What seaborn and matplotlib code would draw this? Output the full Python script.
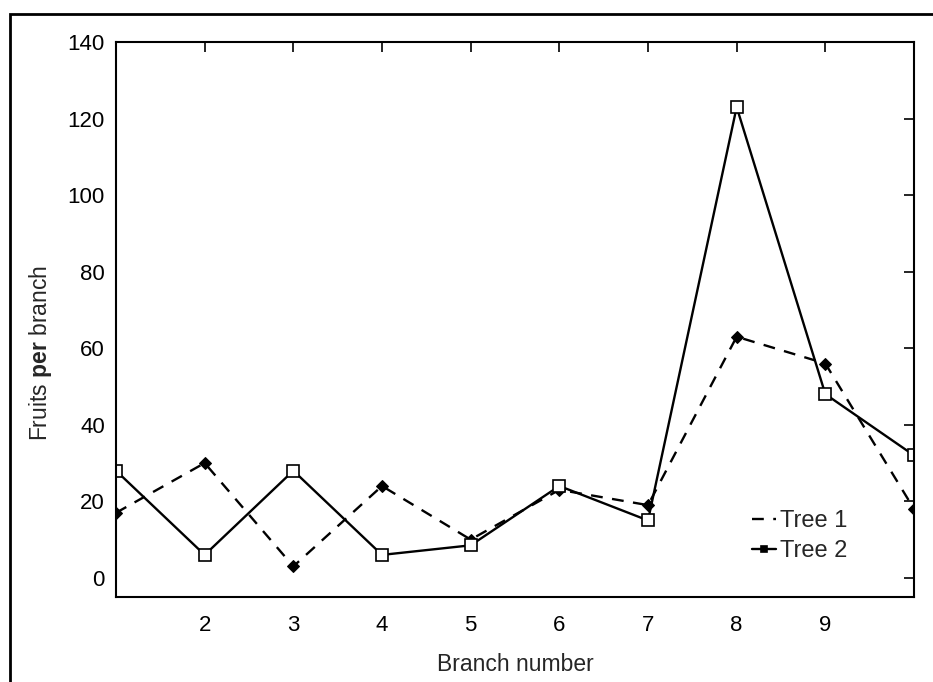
import matplotlib
matplotlib.use("Agg")
import matplotlib.pyplot as plt
import matplotlib.patches as mpatches
import seaborn as sns
import pandas as pd

branch = [1, 2, 3, 4, 5, 6, 7, 8, 9, 10]
tree1 = [17, 30, 3, 24, 10, 23, 19, 63, 56, 18]
tree2 = [28, 6, 28, 6, 8.5, 24, 15, 123, 48, 32]
xticks = [2, 3, 4, 5, 6, 7, 8, 9]
yticks = [0, 20, 40, 60, 80, 100, 120, 140]

sns.set_style("white")
plt.rcParams['font.family'] = ['Liberation Sans', 'DejaVu Sans']
plt.rcParams['mathtext.fontset'] = 'custom'
plt.rcParams['mathtext.rm'] = 'Liberation Sans'
plt.rcParams['mathtext.bf'] = 'Liberation Sans:bold'

fig = plt.figure(figsize=(9.33, 6.82), dpi=100)
ax = fig.add_axes([116/933, 1-597/682, (914-116)/933, (597-42)/682])

df1 = pd.DataFrame({"x": branch, "y": tree1})
df2 = pd.DataFrame({"x": branch, "y": tree2})
sns.lineplot(data=df1, x="x", y="y", ax=ax, color="black", lw=1.7,
             linestyle=(0, (5, 4)), marker="D", markersize=6,
             markerfacecolor="black", markeredgecolor="black", label="Tree 1")
sns.lineplot(data=df2, x="x", y="y", ax=ax, color="black", lw=1.7,
             linestyle="-", marker="s", markersize=8,
             markerfacecolor="white", markeredgecolor="black",
             markeredgewidth=1.2, label="Tree 2")

ax.set_xlim(1, 10)
ax.set_ylim(-5, 140)
ax.set_xticks(xticks)
ax.set_yticks(yticks)
ax.tick_params(direction="in", length=7, width=1.2, top=True, right=True,
               labelsize=16, colors="black", pad=8)
ax.tick_params(axis="x", pad=13)
for s in ax.spines.values():
    s.set_color("black")
    s.set_linewidth(1.5)
ax.set_xlabel("Branch number", fontsize=16.5, labelpad=12)
ax.set_ylabel(r"Fruits $\mathbf{per}$ branch", fontsize=16.5)
ax.yaxis.set_label_coords(-0.078, 0.44)

leg = ax.legend(loc="upper left", bbox_to_anchor=(752/933, 1-510/682),
                bbox_transform=fig.transFigure, frameon=False, fontsize=17,
                handlelength=1.0, handletextpad=0.2, labelspacing=0.35,
                borderaxespad=0, borderpad=0)
h = leg.legend_handles
h[0].set_marker("")
h[1].set_markerfacecolor("black")
h[1].set_markersize(5)

fig.patches.append(mpatches.Rectangle((9.5/933, -0.05), 1.2, 1.05 - 14/682,
                                      transform=fig.transFigure, fill=False,
                                      edgecolor="black", linewidth=2))

fig.savefig("out.png", dpi=100)
